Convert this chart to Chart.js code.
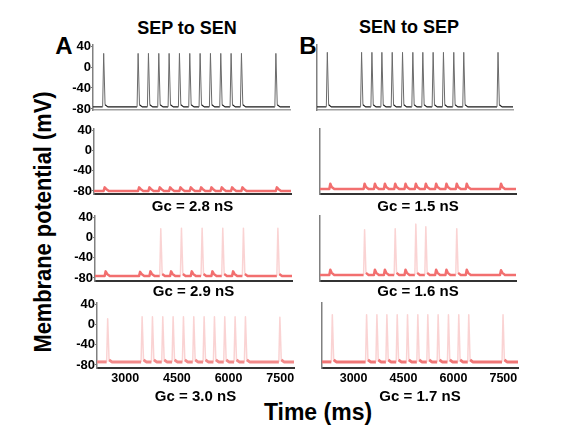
<!DOCTYPE html>
<html>
<head>
<meta charset="utf-8">
<title>SEP / SEN coupling</title>
<script src="https://cdn.jsdelivr.net/npm/chart.js@4.4.1/dist/chart.umd.min.js"></script>
<style>
  html, body { margin: 0; padding: 0; background: #fff; }
  body {
    width: 579px; height: 435px; position: relative; overflow: hidden;
    font-family: "Liberation Sans", Arial, Helvetica, sans-serif; font-weight: bold; color: #000;
  }
  canvas { position: absolute; }
  .lbl { position: absolute; white-space: nowrap; line-height: 1; transform: translate(-50%, -50%); }
</style>
</head>
<body>
<div class="lbl" style="left:187px;top:28px;font-size:18px">SEP to SEN</div>
<div class="lbl" style="left:409px;top:27px;font-size:18px">SEN to SEP</div>
<div class="lbl" style="left:64px;top:46px;font-size:24px">A</div>
<div class="lbl" style="left:308px;top:46px;font-size:24px">B</div>
<div class="lbl" style="left:43px;top:222px;font-size:23px;transform:translate(-50%,-50%) rotate(-90deg) scaleX(0.95)">Membrane potential (mV)</div>
<div class="lbl" style="left:318px;top:412px;font-size:23px">Time (ms)</div>
<div id="panels"></div>
<script>
"use strict";

// spike times (ms)
var spikeTimesA = [2490, 3490, 3790, 4090, 4390, 4690, 4990, 5290, 5590, 5890, 6190, 6490, 7490];
var spikeTimesB = [2360, 3390, 3700, 4000, 4310, 4620, 4930, 5230, 5540, 5850, 6160, 6460, 7490];

var xTicks = [3000, 4500, 6000, 7500];
var yTicks = [-80, -40, 0, 40];

// resting level (mV) of each trace, top to bottom
var restA = [-76, -80, -76, -74];
var restB = [-76, -76, -74, -74];

// peak (mV) reached at each spike time
var peaksA = [
  [26, 26, 26, 26, 26, 26, 26, 26, 26, 26, 26, 26, 26],
  [-73, -73, -73, -73, -73, -73, -73, -73, -73, -73, -73, -73, -73],
  [-67, -68, -67, 17, -67, 18, -67, 18, -67, 18, -67, 18, 18],
  [11, 15, 15, 15, 15, 15, 15, 15, 15, 15, 15, 15, 14]
];
var peaksB = [
  [28, 28, 28, 28, 28, 28, 28, 28, 28, 28, 28, 28, 28],
  [-66, -66, -66, -66, -66, -66, -66, -66, -66, -66, -66, -66, -66],
  [-64, 15, -64, -64, 17, -64, 26, 21, -64, -64, 17, -64, -65],
  [19, 19, 19, 19, 19, 19, 19, 19, 19, 19, 19, 19, 19]
];

var gcLabelsA = ["", "Gc = 2.8 nS", "Gc = 2.9 nS", "Gc = 3.0 nS"];
var gcLabelsB = ["", "Gc = 1.5 nS", "Gc = 1.6 nS", "Gc = 1.7 nS"];

var rangeA = [2180, 7900];
var rangeB = [2050, 7940];
var yMax = 42;
var yMins = [-82, -86, -86, -86];

// layout of the panels
var rowTops = [45, 129, 216, 303];
var plotH = 65;
var leftsA = [93, 94, 95, 97];
var leftsB = [317, 320, 320, 322];
var gcY = [0, 205, 290, 395];

var buildTrace = function(times, peaks, rest, range) {
  var pts = [{x: range[0], y: rest}];
  times.forEach(function(t, i) {
    pts.push({x: t - 30, y: rest});
    pts.push({x: t, y: peaks[i]});
    pts.push({x: t + 40, y: rest + 4});
    pts.push({x: t + 120, y: rest});
  });
  pts.push({x: range[1], y: rest});
  return pts;
};

var fixedTicks = function(values) {
  return function(scale) {
    scale.ticks = values.map(function(v) { return {value: v}; });
  };
};

var drawPanel = function(col, row) {
  var isA = col === "A";
  var range = isA ? rangeA : rangeB;
  var rest = (isA ? restA : restB)[row];
  var peaks = (isA ? peaksA : peaksB)[row];
  var times = isA ? spikeTimesA : spikeTimesB;
  var plotW = Math.round((range[1] - range[0]) / (isA ? 29 : 30));
  var yW = isA ? 45 : 4;
  var xH = row === 3 ? 24 : 10;
  var padR = 8;
  var left = (isA ? leftsA : leftsB)[row];

  var canvas = document.createElement("canvas");
  canvas.width = yW + plotW + padR;
  canvas.height = 8 + plotH + xH;
  canvas.style.left = (left - yW) + "px";
  canvas.style.top = (rowTops[row] - 8) + "px";
  document.getElementById("panels").appendChild(canvas);

  var ctrl = row === 0;
  var restColor = ctrl ? "#1a1a1a" : (row === 3 ? (isA ? "#f28a8a" : "#ef7676") : "#f26f6f");
  var spikeColor = ctrl ? "#6a6a6a" : "rgba(244,150,150,0.42)";
  var restWidth = ctrl ? 1.2 : (row === 3 ? 3 : 2.5);
  var isSpike = function(c) {
    return Math.max(c.p0.parsed.y, c.p1.parsed.y) > rest + 20;
  };

  new Chart(canvas, {
    type: "line",
    data: {
      datasets: [
        {
          data: buildTrace(times, peaks, rest, range),
          borderColor: restColor,
          borderWidth: restWidth,
          borderJoinStyle: "round",
          pointRadius: 0,
          tension: 0,
          segment: {
            borderColor: function(c) { return isSpike(c) ? spikeColor : restColor; },
            borderWidth: function(c) { return isSpike(c) ? (ctrl ? 1 : 1.5) : restWidth; }
          }
        }
      ]
    },
    options: {
      responsive: false,
      animation: false,
      layout: {padding: {top: 8, right: padR, left: 0, bottom: 0}},
      plugins: {legend: {display: false}, tooltip: {enabled: false}},
      scales: {
        x: {
          type: "linear",
          min: range[0],
          max: range[1],
          grid: {display: false, drawTicks: false},
          border: {display: true, color: ctrl ? "#a0a0a0" : "#333", width: ctrl ? 1.5 : 2},
          ticks: {
            display: row === 3,
            color: "#000",
            padding: 3,
            maxRotation: 0,
            autoSkip: false,
            font: {family: "'Liberation Sans', Arial, sans-serif", weight: "bold", size: 12.5},
            callback: function(v) { return String(v); }
          },
          afterBuildTicks: fixedTicks(xTicks),
          afterFit: function(s) {
            s.height = xH;
            s.paddingLeft = 0;
            s.paddingRight = 0;
          }
        },
        y: {
          min: yMins[row],
          max: yMax,
          grid: {display: isA, drawOnChartArea: false, drawTicks: true, tickLength: 2, color: "#777"},
          border: {display: true, color: "#808080", width: 1.5},
          ticks: {
            display: isA,
            color: "#000",
            padding: 0,
            font: {family: "'Liberation Sans', Arial, sans-serif", weight: "bold", size: 13}
          },
          afterBuildTicks: fixedTicks(yTicks),
          afterFit: function(s) {
            s.width = yW;
            s.paddingTop = 0;
            s.paddingBottom = 0;
          }
        }
      }
    }
  });

  var text = (isA ? gcLabelsA : gcLabelsB)[row];
  if (text) {
    var lbl = document.createElement("div");
    lbl.className = "lbl";
    lbl.style.fontSize = "15px";
    lbl.style.left = (left + plotW / 2) + "px";
    lbl.style.top = gcY[row] + "px";
    lbl.textContent = text;
    document.getElementById("panels").appendChild(lbl);
  }
};

[0, 1, 2, 3].forEach(function(row) {
  drawPanel("A", row);
  drawPanel("B", row);
});
</script>
</body>
</html>
